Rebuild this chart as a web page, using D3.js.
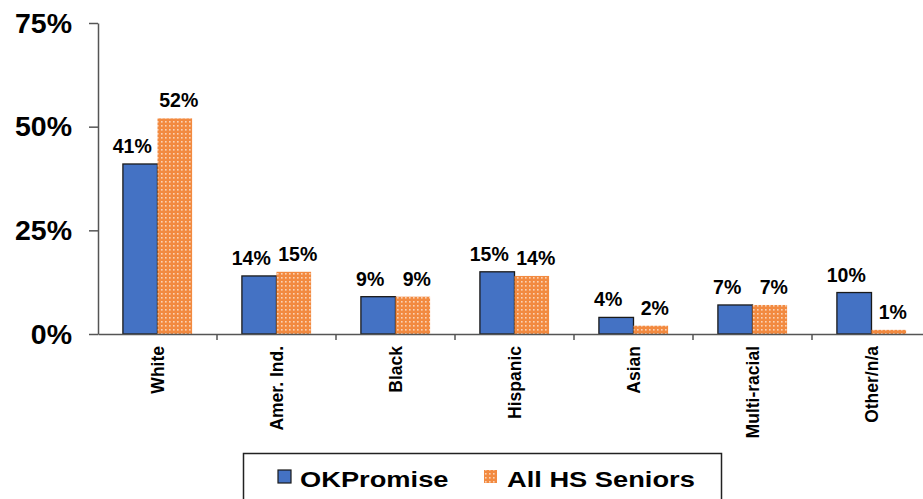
<!DOCTYPE html>
<html><head><meta charset="utf-8">
<script src="https://cdn.jsdelivr.net/npm/d3@7"></script>
<style>body{margin:0;background:#fff;}svg{display:block;font-family:"Liberation Sans",Arial,sans-serif;}</style>
</head><body>
<svg id="c" width="923" height="499"></svg>
<script>
const categories = ["White","Amer. Ind.","Black","Hispanic","Asian","Multi-racial","Other/n/a"];
const okPromise = [41,14,9,15,4,7,10];
const allSeniors = [52,15,9,14,2,7,1];
const seriesNames = ["OKPromise","All HS Seniors"];
const yTicks = [0,25,50,75];

const svg = d3.select("#c");
const defs = svg.append("defs");
const pat = defs.append("pattern").attr("id","dots").attr("patternUnits","userSpaceOnUse")
  .attr("width",4).attr("height",4);
pat.append("rect").attr("width",4).attr("height",4).attr("fill","#F28A40");
pat.append("rect").attr("x",1).attr("y",1).attr("width",1.6).attr("height",1.6).attr("fill","#FBD3B5");

const x0 = 98, x1 = 931, yBase = 334, yTop = 23;
const x = d3.scaleBand().domain(categories).range([x0,x1]).paddingInner(0).paddingOuter(0);
const xs = d3.scaleBand().domain(seriesNames).range([0,x.bandwidth()]).paddingInner(0).paddingOuter(0.72);
const y = d3.scaleLinear().domain([0,75]).range([yBase,yTop]);

// y axis
const ya = svg.append("g").attr("transform",`translate(${x0},0)`)
  .call(d3.axisLeft(y).tickValues(yTicks).tickFormat(d=>d+"%").tickSize(9).tickSizeOuter(0));
ya.select(".domain").attr("stroke","#555").attr("stroke-width",1.5);
ya.selectAll(".tick line").attr("stroke","#555").attr("stroke-width",1.5);
ya.selectAll(".tick text").attr("font-size",28.5).attr("font-weight","bold").attr("fill","#000")
  .attr("font-family","Liberation Sans, Arial, sans-serif").attr("x",-26);

// bars
const data = categories.map((c,i)=>({c, v:[okPromise[i], allSeniors[i]]}));
const g = svg.append("g");
data.forEach(d=>{
  d.v.forEach((v,j)=>{
    const bx = x(d.c)+xs(seriesNames[j]);
    g.append("rect").attr("x",bx).attr("y",y(v)).attr("width",xs.bandwidth()).attr("height",yBase-y(v))
      .attr("fill", j===0 ? "#4472C4" : "url(#dots)")
      .attr("stroke", j===0 ? "#1a1a1a" : "none").attr("stroke-width",1.3);
    g.append("text").attr("x",bx+xs.bandwidth()/2 + (j===0?-8:4)).attr("y",y(v)-11)
      .attr("text-anchor","middle").attr("font-size",19.5).attr("font-weight","bold").text(v+"%");
  });
});

// x axis
const xa = svg.append("g").attr("transform",`translate(0,${yBase})`)
  .call(d3.axisBottom(x).tickSize(0).tickSizeOuter(0));
xa.select(".domain").attr("stroke","#555").attr("stroke-width",1.5);
xa.selectAll(".tick text").attr("font-size",17.5).attr("font-weight","bold").attr("fill","#000")
  .attr("font-family","Liberation Sans, Arial, sans-serif")
  .attr("transform","rotate(-90)").attr("text-anchor","end").attr("x",-12).attr("y",0).attr("dy","0.35em");
// boundary ticks
categories.slice(1).forEach(c=>{
  svg.append("line").attr("x1",x(c)).attr("x2",x(c)).attr("y1",yBase).attr("y2",yBase+6)
    .attr("stroke","#555").attr("stroke-width",1.5);
});

// legend
const lg = svg.append("g");
lg.append("rect").attr("x",243.5).attr("y",453.5).attr("width",478).attr("height",60)
  .attr("fill","none").attr("stroke","#222").attr("stroke-width",1.5);
const legendItems = [{name:seriesNames[0], fill:"#4472C4", stroke:"#1a1a1a", sx:278, tx:300},
                     {name:seriesNames[1], fill:"url(#dots)", stroke:"none", sx:484, tx:507}];
legendItems.forEach(it=>{
  lg.append("rect").attr("x",it.sx).attr("y",470).attr("width",13).attr("height",13)
    .attr("fill",it.fill).attr("stroke",it.stroke).attr("stroke-width",1.2);
  lg.append("text").attr("transform",`translate(${it.tx},487) scale(1.24,1)`)
    .attr("font-size",22).attr("font-weight","bold").text(it.name);
});
</script>
</body></html>
